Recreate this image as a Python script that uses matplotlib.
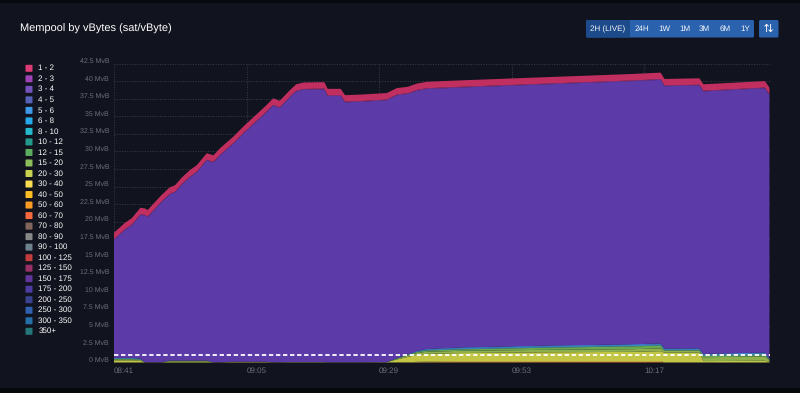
import numpy as np
import matplotlib
matplotlib.use("Agg")
import matplotlib.pyplot as plt
from matplotlib.colors import to_rgb
from matplotlib.patches import FancyBboxPatch, Rectangle
from matplotlib.transforms import ScaledTranslation, IdentityTransform

W, H = 800, 393
plt.rcParams['font.family'] = ['Liberation Sans', 'DejaVu Sans']
plt.rcParams['text.hinting'] = 'no_hinting'
plt.rcParams['text.hinting_factor'] = 1

fee_labels = ["1 - 2","2 - 3","3 - 4","4 - 5","5 - 6","6 - 8","8 - 10","10 - 12","12 - 15","15 - 20",
              "20 - 30","30 - 40","40 - 50","50 - 60","60 - 70","70 - 80","80 - 90","90 - 100",
              "100 - 125","125 - 150","150 - 175","175 - 200","200 - 250","250 - 300","300 - 350","350+"]
fee_colors = ["#d81b60","#8e24aa","#5e35b1","#3949ab","#1e88e5","#039be5","#00acc1","#00897b","#43a047","#7cb342",
              "#c0ca33","#fdd835","#ffb300","#fb8c00","#f4511e","#6d4c41","#757575","#546e7a",
              "#b71c1c","#880e4f","#4a148c","#311b92","#1a237e","#0d47a1","#01579b","#006064"]
area_colors = {"1 - 2":"#c02f60","2 - 3":"#8e3aa0","3 - 4":"#5c3aa8","5 - 6":"#3f8fe8","6 - 8":"#45a5e8","8 - 10":"#4fb0c4",
               "10 - 12":"#5fa58a","12 - 15":"#6aa84f","15 - 20":"#8db04c","20 - 30":"#c3c545","30 - 40":"#f0d84a",
               "40 - 50":"#f5b23c","60 - 70":"#e8602e"}

minutes = [0,2,3.2,4.8,5.6,6.1,8.6,10.1,11.05,12.3,13.75,15,16.8,18,19.2,21.6,23.7,27.3,28.85,30,31.9,33,34.3,
           38.1,38.7,41.05,41.85,45.1,49.4,51.2,53.25,54.85,56.65,62.7,78,93.5,99,99.7,106,106.75,117.9,118.7]
total_top = [18.45,19.87,20.5,22.0,21.9,21.68,23.8,24.9,25.2,26.3,27.35,28.05,29.75,29.45,30.45,32.1,33.75,36.35,37.55,37.2,
             38.75,39.55,39.8,39.85,38.9,38.9,38.0,38.1,38.3,39.0,39.2,39.65,39.9,40.1,40.55,41.0,41.2,40.3,40.4,39.55,40.0,39.05]
v_1_2 = [0.92]*42
v_2_3 = [0.1]*42
v_5_6 = [.05,.05,.05,.04,0,0,0,.01,.01,.01,.01,.01,.01,0,0,0,0,0,0,0,0,0,0,0,0,0,0,0,0,.02,.04,.06,.08,.1,.11,.11,.12,.1,.1,.1,.14,.06]
v_6_8 = [.05,.05,.05,.04,0,0,0,.01,.01,.01,.01,.01,.01,0,0,0,0,0,0,0,0,0,0,0,0,0,0,0,0,.02,.04,.06,.08,.1,.1,.1,.11,.09,.1,.1,.13,.02]
v_8_10 = [.04,.04,.04,.03,0,0,0,.01,.01,.01,.01,.01,.01,0,0,0,0,0,0,0,0,0,0,0,0,0,0,0,0,.01,.02,.02,.03,.04,.05,.05,.05,.03,.04,.04,.06,.01]
v_10_12 = [.02,.02,.02,.02,0,0,0,.01,.01,.01,.01,.01,.01,0,0,0,0,0,0,0,0,0,0,0,0,0,0,0,0,.01,.02,.02,.03,.03,.03,.03,.03,.02,.02,.03,.03,.01]
v_12_15 = [.08,.08,.08,.06,0,0,0,.03,.03,.03,.03,.03,.03,0,0,.01,.01,.01,0,0,.01,.01,.01,.01,0,0,0,0,0,.03,.06,.14,.17,.2,.3,.4,.4,.03,.04,.2,.2,.08]
v_15_20 = [.12,.12,.12,.1,.01,.01,.01,.08,.08,.08,.08,.08,.08,.01,.01,.04,.04,.04,.01,.01,.02,.02,.02,.02,.01,.01,.01,.01,.01,.1,.2,.25,.3,.32,.35,.38,.38,.3,.3,.55,.6,.25]
v_20_30 = [.3,.3,.3,.25,.02,.02,.02,.12,.12,.12,.12,.12,.12,.02,.02,.05,.05,.05,.02,.02,.03,.03,.03,.03,.02,.02,.02,.02,.03,.4,.75,1.0,1.1,1.15,1.25,1.3,1.4,1.4,1.4,.2,.25,.1]
v_30_40 = [0]*28+[.01,.02,.04,.06,.08,.1,.1,.1,.1,0,0,0,0,0]
v_40_50 = [0]*30+[.01,.02,.03,.05,.05,.05,.05,0,0,0,0,0]
v_60_70 = [0]*31+[.01,.02,.04,.05,.06,.06,0,0,0,0,0]

layers = {"5 - 6":v_5_6,"6 - 8":v_6_8,"8 - 10":v_8_10,"10 - 12":v_10_12,"12 - 15":v_12_15,"15 - 20":v_15_20,
          "20 - 30":v_20_30,"30 - 40":v_30_40,"40 - 50":v_40_50,"60 - 70":v_60_70,"1 - 2":v_1_2,"2 - 3":v_2_3}
# 3-4 sat/vB fills whatever the read total leaves over
layers["3 - 4"] = np.array(total_top) - sum(np.array(v, float) for v in layers.values())

y_ticks = [2.5*i for i in range(18)]
y_labels = [f"{v:g} MvB" for v in y_ticks]
x_ticks = [0,24,48,72,96]
x_labels = ["08:41","09:05","09:29","09:53","10:17"]
limit_line = 1.05
title = "Mempool by vBytes (sat/vByte)"
buttons = ["2H (LIVE)","24H","1W","1M","3M","6M","1Y"]

fig = plt.figure(figsize=(W/100, H/100), dpi=100, facecolor="#08090d")
def fx(p): return p/W
def fy(p): return 1-p/H
def soft(c, f=0.14):
    r = np.array(to_rgb(c))
    return tuple(r + (1-r)*f)
def box(x0, y0, x1, y1, color, rad=1.5):
    fig.add_artist(FancyBboxPatch((x0+rad, H-y1+rad), x1-x0-2*rad, y1-y0-2*rad, boxstyle=f"round,pad={rad},rounding_size={rad}",
                                  transform=IdentityTransform(), fc=color, ec="none", mutation_scale=1))

fig.add_artist(Rectangle((0, fy(388)), 1, (388-3)/H, transform=fig.transFigure, fc="#11131e", ec="none", zorder=-5))

ax = fig.add_axes([fx(114), fy(362.5), (770-114)/W, (362.5-63.5)/H])
ax.set_facecolor("none")
ax.set_xlim(0, 118.8); ax.set_ylim(0, 42.5)

order = list(reversed(fee_labels))
ax.stackplot(minutes, [layers.get(n, [0]*len(minutes)) for n in order],
             colors=[area_colors.get(n, fee_colors[fee_labels.index(n)]) for n in order],
             linewidth=0, zorder=3, labels=order)
ax.plot([0, 118.8], [limit_line]*2, color="white", lw=1.3, dashes=(2.4, 1.5), zorder=5)

ax.set_yticks(y_ticks); ax.set_yticklabels(y_labels)
ax.set_xticks(x_ticks); ax.set_xticklabels(x_labels)
ax.grid(True, color="#3a3c47", lw=0.7, ls=(0, (1, 1.6)), zorder=0)
ax.set_axisbelow(True)
for s in ax.spines.values():
    s.set_visible(False)
ax.tick_params(length=0, labelcolor="#6c6e79", pad=3.5)
ax.tick_params(axis="y", labelsize=5.4)
ax.tick_params(axis="x", labelsize=5.7)
shift = ScaledTranslation(0, 3/100, fig.dpi_scale_trans)
for t in ax.get_yticklabels():
    t.set_transform(t.get_transform() + shift)
for t in ax.get_xticklabels():
    t.set_ha("left")

fig.text(fx(20.5), fy(28.5), title, color="white", fontsize=8.15, va="center", ha="left")

for i, (lab, col) in enumerate(zip(fee_labels, fee_colors)):
    yc = 68.3 + i*10.52
    box(25.5, yc-3.5, 32.5, yc+3.5, soft(col), rad=0.8)
    fig.text(fx(38.5), fy(yc), lab, color="white", fontsize=5.6, va="center", ha="left")

box(586, 20, 754, 37.5, "#2a62ae")
box(586, 20, 630, 37.5, "#1c4a8a")
box(759, 20, 778.5, 37.5, "#2a62ae")
for lab, xc in zip(buttons, [608, 642, 664.5, 684.5, 704.5, 725, 745]):
    fig.text(fx(xc), fy(29), lab, color="#f4f6fa", fontsize=5.6, va="center", ha="center")
fig.text(fx(768.7), fy(29), "\u21c5", color="white", fontsize=8, va="center", ha="center", family="DejaVu Sans")

fig.savefig("out.png", dpi=100, facecolor=fig.get_facecolor())
